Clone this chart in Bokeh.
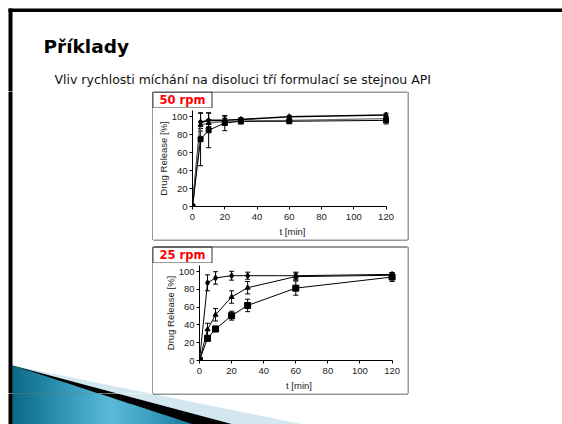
from bokeh.plotting import figure
from bokeh.layouts import column, row
from bokeh.models import Range1d, FixedTicker, Whisker, TeeHead, ColumnDataSource
from bokeh.core.properties import value
from bokeh.embed import file_html
from bokeh.resources import INLINE

# ---------------- data ----------------
t_min = [0, 5, 10, 20, 30, 60, 120]
x_ticks = [0, 20, 40, 60, 80, 100, 120]
y_ticks = [0, 20, 40, 60, 80, 100]

# 50 rpm
rel50_a = [0, 94, 96, 96, 97, 100, 102]
err50_a = [0, 10, 8, 4, 2, 1.5, 2]
rel50_b = [0, 91, 93, 95, 95, 96, 98]
err50_b = [0, 4, 4, 3, 2, 1.5, 2]
rel50_c = [0, 75, 85, 93, 95, 95, 96]
err50_c = [0, 29.5, 19.5, 8.5, 3, 2, 4]

# 25 rpm
rel25_a = [0, 87.5, 93, 95.5, 95.5, 95.5, 97]
err25_a = [0, 9, 7, 5, 4, 4, 2]
rel25_b = [0, 35, 51.5, 71.5, 82, 94.5, 96]
err25_b = [0, 7, 7, 7, 7, 4, 3]
rel25_c = [0, 25, 35.5, 50.5, 62, 81.5, 94]
err25_c = [0, 3, 3, 5, 7, 8, 5]

title_text = "Příklady"
subtitle_text = "Vliv rychlosti míchání na disoluci tří formulací se stejnou API"
speed_labels = ["50 rpm", "25 rpm"]
x_label = "t [min]"
y_label = "Drug Release [%]"

AX_FONT = "Liberation Sans"
BOX_COLOR = "#333333"


# ---------------- slide scene (page pixel coordinates) ----------------
def lerp_color(c1, c2, f):
    a = [int(c1[i:i + 2], 16) for i in (1, 3, 5)]
    b = [int(c2[i:i + 2], 16) for i in (1, 3, 5)]
    return "#%02x%02x%02x" % tuple(round(a[k] + (b[k] - a[k]) * f) for k in range(3))


def deco(x0, x1, y0, y1, headings=False, label_idx=None):
    f = figure(width=x1 - x0, height=y1 - y0, x_range=Range1d(x0, x1), y_range=Range1d(y1, y0),
               x_axis_type=None, y_axis_type=None, toolbar_location=None, output_backend="svg",
               min_border=0, min_border_left=0, min_border_right=0, min_border_top=0,
               min_border_bottom=0, outline_line_color=None, title=None, frame_align=False,
               background_fill_color="white", border_fill_color="white")
    # wedge: light blue, black, teal gradient
    f.patch([12, 303, 12], [365, 424, 424], fill_color="#d3e7f0", line_color=None)
    f.patch([12, 233, 12], [365, 424, 424], fill_color="black", line_color=None)
    stops = [(12, "#0b6884"), (60, "#2d93b3"), (110, "#5cbad9"), (150, "#3b9fc0"), (193, "#17789a")]
    xs, ys, cs = [], [], []
    xa = 12
    while xa < 193:
        xb = min(xa + 3, 193)
        ta = 365 + (xa - 12) * 59 / 181
        tb = 365 + (xb - 12) * 59 / 181
        xs.append([xa, xb + 0.6, xb + 0.6, xa])
        ys.append([ta, tb, 424, 424])
        xm = (xa + xb) / 2
        for k in range(len(stops) - 1):
            if stops[k][0] <= xm <= stops[k + 1][0]:
                fr = (xm - stops[k][0]) / (stops[k + 1][0] - stops[k][0])
                cs.append(lerp_color(stops[k][1], stops[k + 1][1], fr))
                break
        xa = xb
    f.patches(xs, ys, fill_color=cs, line_color=None)
    # black frame edges of the slide
    f.quad(left=8, right=12, top=8, bottom=424, fill_color="black", line_color=None)
    f.quad(left=8, right=562, top=8, bottom=11.5, fill_color="black", line_color=None)
    # chart frames and speed label boxes
    f.quad(left=[152.5, 152.5], right=[407.5, 407.5], top=[91.5, 246.5], bottom=[239.5, 393.5],
           fill_color=None, line_color=BOX_COLOR, line_width=1)
    f.quad(left=[152.5, 152.5], right=[211.5, 211.5], top=[91.5, 246.5], bottom=[107.5, 262.5],
           fill_color=None, line_color=BOX_COLOR, line_width=1)
    if headings:
        f.text(x=[43], y=[46], text=[title_text], text_font=value("DejaVu Sans"),
               text_font_style="bold", text_font_size="18.5px", text_color="black",
               text_baseline="middle", text_align="left")
        f.text(x=[54], y=[79], text=[subtitle_text], text_font=value("DejaVu Sans"),
               text_font_size="12.5px", text_color="#111111", text_baseline="middle",
               text_align="left")
    if label_idx is not None:
        ly = [99.5, 254.5][label_idx]
        f.text(x=[182], y=[ly], text=[speed_labels[label_idx]], text_font=value("DejaVu Sans"),
               text_font_style="bold", text_font_size="11.5px", text_color="#ff0000",
               text_baseline="middle", text_align="center")
    return f


# ---------------- charts ----------------
def chart(w, h, mb_left, mb_right, mb_top, mb_bottom, series):
    p = figure(width=w, height=h, x_range=Range1d(0, 124), y_range=Range1d(0, 107),
               toolbar_location=None, output_backend="svg", title=None, frame_align=False,
               min_border_left=mb_left, min_border_right=mb_right,
               min_border_top=mb_top, min_border_bottom=mb_bottom,
               outline_line_color=None, background_fill_color="white", border_fill_color="white")
    p.grid.visible = False
    for ax in (p.xaxis, p.yaxis):
        ax.axis_line_color = "black"
        ax.major_tick_line_color = "black"
        ax.minor_tick_line_color = None
        ax.major_tick_out = 3
        ax.major_tick_in = 0
        ax.major_label_text_font = AX_FONT
        ax.major_label_text_font_size = "9.5px"
        ax.major_label_text_color = "#222222"
        ax.axis_label_text_font = AX_FONT
        ax.axis_label_text_font_size = "9.5px"
        ax.axis_label_text_font_style = "normal"
        ax.axis_label_text_color = "#222222"
    p.xaxis.ticker = FixedTicker(ticks=x_ticks)
    p.yaxis.ticker = FixedTicker(ticks=y_ticks)
    p.xaxis.bounds = (0, 120)
    p.xaxis.axis_label = x_label
    p.yaxis.axis_label = y_label
    p.xaxis.major_label_standoff = 4
    p.yaxis.major_label_standoff = 2
    p.xaxis.axis_label_standoff = 3
    p.yaxis.axis_label_standoff = 0

    for ys, es, marker, msize, lw, lc in series:
        p.line(t_min, ys, line_color=lc, line_width=lw)
        keep = [i for i in range(len(t_min)) if es[i] > 0]
        src = ColumnDataSource(data=dict(
            t=[t_min[i] for i in keep],
            up=[ys[i] + es[i] for i in keep],
            lo=[ys[i] - es[i] for i in keep]))
        p.add_layout(Whisker(source=src, base="t", upper="up", lower="lo", dimension="height",
                             line_color="black", line_width=1,
                             upper_head=TeeHead(size=5, line_color="black", line_width=1),
                             lower_head=TeeHead(size=5, line_color="black", line_width=1)))
        p.scatter(t_min, ys, marker=marker, size=msize, fill_color="black", line_color="black")
    return p


s50 = [(rel50_a, err50_a, "diamond", 6, 1.6, "black"),
       (rel50_b, err50_b, "triangle", 5, 1.3, "#707070"),
       (rel50_c, err50_c, "square", 5, 1.0, "black")]
s25 = [(rel25_a, err25_a, "diamond", 6, 1.0, "black"),
       (rel25_b, err25_b, "triangle", 5, 1.0, "black"),
       (rel25_c, err25_c, "square", 6, 1.0, "black")]

# chart interiors: x 153..407; chart1 y 108..239, chart2 y 263..393
c1 = chart(254, 131, 39, 15, 2, 33, s50)
c2 = chart(254, 130, 46, 9, 2, 31, s25)

header = deco(0, 562, 0, 91, headings=True)
left = deco(0, 153, 91, 393)
right = deco(407, 562, 91, 393)
strip1 = deco(153, 407, 91, 108, label_idx=0)
strip2 = deco(153, 407, 239, 263, label_idx=1)
bottom = deco(0, 562, 393, 424)

layout = column(header,
                row(left, column(strip1, c1, strip2, c2), right),
                bottom)

open("out.html", "w").write(file_html(layout, INLINE))
